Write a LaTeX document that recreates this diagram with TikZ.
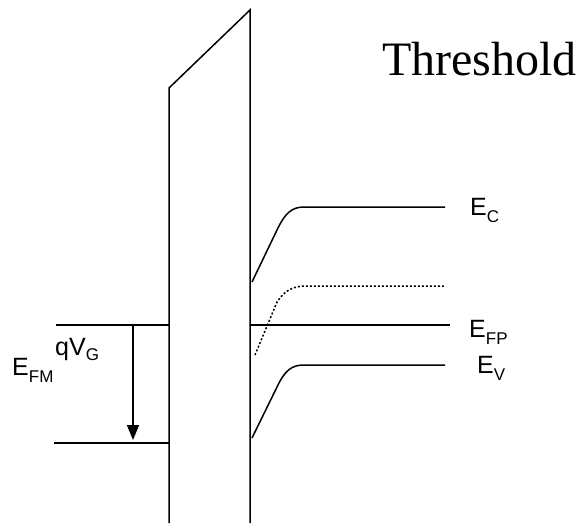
\documentclass[tikz,border=0pt]{standalone}
\usepackage{fontspec}
\setmainfont{Liberation Serif}
\newfontfamily\arialfam{Liberation Sans}
\usetikzlibrary{positioning,arrows.meta}
\newcommand{\nivelE}[1]{E\raisebox{-7pt}{\fontsize{17}{17}\selectfont #1}}

\begin{document}
\begin{tikzpicture}[
      x=1pt, y=-1pt,
      linea/.style={line width=1.5pt},
      puntos/.style={line width=1.5pt, dash pattern=on 2pt off 2pt},
      flecha/.style={-{Triangle[length=15pt,width=12pt]}, line width=1.5pt},
      etiqueta/.style={font=\arialfam\fontsize{25}{25}\selectfont, inner sep=0pt, anchor=base west}]
    \useasboundingbox (0,0) rectangle (582,523);
    % oxido
    \draw[linea] (169,523) -- (169,88) -- (250,10) -- (250,523);
    % metal
    \coordinate (fm1) at (56,325);
    \coordinate (fm2) at (169,325);
    \coordinate (fm3) at (54,443);
    \coordinate (fm4) at (169,443);
    \coordinate (qa) at (133,325);
    \coordinate (qb) at (133,440);
    \draw[linea] (fm1) -- (fm2);
    \draw[linea] (fm3) -- (fm4);
    \draw[flecha] (qa) -- (qb);
    % semiconductor
    \coordinate (ec) at (445,207);
    \coordinate (ei) at (445,286);
    \coordinate (efp) at (450,325);
    \coordinate (ev) at (445,365);
    \draw[linea] (252,282) -- (277,230) .. controls (285,213) and (292,207) .. (304,207) -- (ec);
    \draw[puntos] (255,355) -- (277,302) .. controls (285,290) and (293,286) .. (307,286) -- (ei);
    \draw[linea] (250,325) -- (efp);
    \draw[linea] (252,438) -- (277,387) .. controls (285,370) and (292,365) .. (304,365) -- (ev);
    % etiquetas
    \node[font=\fontsize{48}{48}\selectfont, inner sep=0pt, anchor=base west] (titulo) at (382,75) {Threshold};
    \node[etiqueta] (lec) at (470,215) {\nivelE{C}};
    \node[etiqueta] (lefp) at (469,337) {\nivelE{FP}};
    \node[etiqueta] (lev) at (477,373) {\nivelE{V}};
    \node[etiqueta] (lefm) at (12,375) {\nivelE{FM}};
    \node[etiqueta] (lqv) at (55,355) {qV\raisebox{-5pt}{\fontsize{17}{17}\selectfont G}};
\end{tikzpicture}
\end{document}
